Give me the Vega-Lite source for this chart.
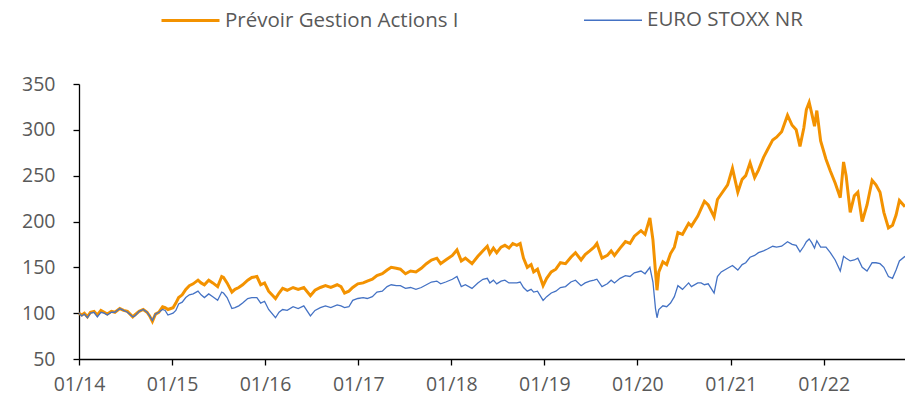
{
  "$schema": "https://vega.github.io/schema/vega-lite/v6.json",
  "width": 826,
  "height": 275,
  "autosize": "none",
  "padding": {"left": 79, "top": 84, "right": 0, "bottom": 41},
  "background": "white",
  "config": {
    "view": {"stroke": null},
    "font": "Open Sans",
    "axis": {"grid": false, "domainColor": "#000000", "domainWidth": 1.3, "tickColor": "#000000", "tickWidth": 1.3, "labelColor": "#595959", "labelFont": "Open Sans", "labelFontSize": 19.5, "title": null},
    "legend": {"labelFont": "Open Sans", "labelFontSize": 20.5, "labelColor": "#595959"}
  },
  "data": {"values": [
{"d":"2014-01-01","P":100,"E":100},{"d":"2014-01-12","P":98,"E":97},{"d":"2014-01-22","P":100,"E":99},{"d":"2014-02-03","P":96,"E":95},{"d":"2014-02-15","P":101,"E":100},{"d":"2014-03-01","P":102,"E":101},{"d":"2014-03-14","P":98,"E":96},{"d":"2014-03-28","P":103,"E":101},{"d":"2014-04-10","P":101,"E":100},{"d":"2014-04-22","P":99,"E":98},{"d":"2014-05-08","P":102,"E":101},{"d":"2014-05-22","P":101,"E":101},{"d":"2014-06-10","P":105,"E":105},{"d":"2014-06-25","P":103,"E":103},{"d":"2014-07-10","P":102,"E":101},{"d":"2014-07-31","P":96,"E":96},{"d":"2014-08-08","P":98,"E":97},{"d":"2014-08-25","P":102,"E":102},{"d":"2014-09-10","P":104,"E":104},{"d":"2014-09-25","P":101,"E":101},{"d":"2014-10-05","P":97,"E":97},{"d":"2014-10-16","P":91,"E":92},{"d":"2014-10-28","P":99,"E":99},{"d":"2014-11-10","P":101,"E":101},{"d":"2014-11-25","P":107,"E":104},{"d":"2014-12-05","P":106,"E":103},{"d":"2014-12-16","P":104,"E":98},
{"d":"2015-01-05","P":106,"E":100},{"d":"2015-01-16","P":111,"E":103},{"d":"2015-01-27","P":117,"E":110},{"d":"2015-02-10","P":120,"E":112},{"d":"2015-02-24","P":126,"E":117},{"d":"2015-03-10","P":130,"E":120},{"d":"2015-03-25","P":132,"E":121},{"d":"2015-04-13","P":136,"E":124},{"d":"2015-04-25","P":133,"E":120},{"d":"2015-05-08","P":131,"E":117},{"d":"2015-05-25","P":136,"E":121},{"d":"2015-06-10","P":133,"E":118},{"d":"2015-06-29","P":129,"E":114},{"d":"2015-07-15","P":140,"E":123},{"d":"2015-07-22","P":139,"E":122},{"d":"2015-08-05","P":133,"E":117},{"d":"2015-08-24","P":123,"E":105},{"d":"2015-09-05","P":126,"E":106},{"d":"2015-09-20","P":128,"E":108},{"d":"2015-10-05","P":131,"E":111},{"d":"2015-10-25","P":136,"E":116},{"d":"2015-11-10","P":139,"E":117},{"d":"2015-11-30","P":140,"E":117},{"d":"2015-12-15","P":131,"E":111},{"d":"2015-12-30","P":133,"E":113},
{"d":"2016-01-15","P":124,"E":104},{"d":"2016-02-11","P":116,"E":95},{"d":"2016-02-25","P":122,"E":101},{"d":"2016-03-10","P":127,"E":104},{"d":"2016-03-28","P":125,"E":103},{"d":"2016-04-20","P":128,"E":107},{"d":"2016-05-10","P":126,"E":105},{"d":"2016-06-01","P":128,"E":108},{"d":"2016-06-27","P":119,"E":97},{"d":"2016-07-15","P":125,"E":103},{"d":"2016-08-05","P":128,"E":106},{"d":"2016-08-25","P":130,"E":108},{"d":"2016-09-15","P":128,"E":106},{"d":"2016-10-10","P":131,"E":109},{"d":"2016-10-25","P":129,"E":108},{"d":"2016-11-08","P":122,"E":106},{"d":"2016-11-25","P":124,"E":107},{"d":"2016-12-10","P":128,"E":114},{"d":"2016-12-30","P":132,"E":116},
{"d":"2017-01-20","P":133,"E":117},{"d":"2017-02-05","P":135,"E":116},{"d":"2017-02-25","P":137,"E":118},{"d":"2017-03-15","P":141,"E":123},{"d":"2017-04-05","P":143,"E":124},{"d":"2017-04-24","P":147,"E":129},{"d":"2017-05-10","P":150,"E":131},{"d":"2017-05-30","P":149,"E":130},{"d":"2017-06-15","P":148,"E":130},{"d":"2017-07-05","P":143,"E":127},{"d":"2017-07-25","P":146,"E":128},{"d":"2017-08-15","P":145,"E":126},{"d":"2017-09-05","P":149,"E":128},{"d":"2017-09-25","P":154,"E":131},{"d":"2017-10-15","P":158,"E":134},{"d":"2017-11-05","P":160,"E":135},{"d":"2017-11-20","P":154,"E":132},{"d":"2017-12-10","P":158,"E":134},
{"d":"2018-01-05","P":163,"E":137},{"d":"2018-01-23","P":169,"E":140},{"d":"2018-02-09","P":157,"E":129},{"d":"2018-02-25","P":160,"E":131},{"d":"2018-03-23","P":154,"E":127},{"d":"2018-04-15","P":162,"E":133},{"d":"2018-05-05","P":168,"E":137},{"d":"2018-05-22","P":173,"E":138},{"d":"2018-06-01","P":165,"E":133},{"d":"2018-06-15","P":171,"E":136},{"d":"2018-06-28","P":166,"E":132},{"d":"2018-07-15","P":172,"E":135},{"d":"2018-07-30","P":174,"E":136},{"d":"2018-08-15","P":171,"E":133},{"d":"2018-08-30","P":176,"E":133},{"d":"2018-09-15","P":174,"E":133},{"d":"2018-09-28","P":176,"E":134},{"d":"2018-10-11","P":160,"E":128},{"d":"2018-10-26","P":150,"E":124},{"d":"2018-11-10","P":153,"E":126},{"d":"2018-11-20","P":145,"E":123},{"d":"2018-12-05","P":148,"E":124},{"d":"2018-12-27","P":130,"E":114},
{"d":"2019-01-10","P":138,"E":118},{"d":"2019-01-28","P":145,"E":122},{"d":"2019-02-15","P":148,"E":124},{"d":"2019-03-05","P":155,"E":128},{"d":"2019-03-25","P":154,"E":129},{"d":"2019-04-15","P":161,"E":134},{"d":"2019-05-03","P":166,"E":136},{"d":"2019-05-25","P":158,"E":130},{"d":"2019-06-10","P":164,"E":133},{"d":"2019-06-28","P":168,"E":135},{"d":"2019-07-15","P":172,"E":136},{"d":"2019-07-26","P":176,"E":137},{"d":"2019-08-15","P":160,"E":129},{"d":"2019-09-05","P":163,"E":132},{"d":"2019-09-20","P":168,"E":136},{"d":"2019-10-03","P":163,"E":133},{"d":"2019-10-25","P":171,"E":138},{"d":"2019-11-15","P":178,"E":141},{"d":"2019-12-03","P":176,"E":140},{"d":"2019-12-20","P":184,"E":144},
{"d":"2020-01-15","P":190,"E":146},{"d":"2020-01-31","P":186,"E":143},{"d":"2020-02-19","P":204,"E":150},{"d":"2020-03-02","P":180,"E":134},{"d":"2020-03-12","P":145,"E":105},{"d":"2020-03-18","P":125,"E":95},{"d":"2020-03-25","P":145,"E":104},{"d":"2020-04-10","P":156,"E":108},{"d":"2020-04-25","P":153,"E":107},{"d":"2020-05-10","P":165,"E":111},{"d":"2020-05-25","P":172,"E":118},{"d":"2020-06-08","P":188,"E":130},{"d":"2020-06-26","P":186,"E":126},{"d":"2020-07-20","P":198,"E":133},{"d":"2020-07-31","P":195,"E":129},{"d":"2020-08-25","P":206,"E":133},{"d":"2020-09-07","P":214,"E":133},{"d":"2020-09-20","P":222,"E":131},{"d":"2020-10-05","P":218,"E":132},{"d":"2020-10-28","P":205,"E":122},{"d":"2020-11-10","P":224,"E":140},{"d":"2020-11-25","P":230,"E":145},{"d":"2020-12-20","P":240,"E":149},
{"d":"2021-01-08","P":258,"E":152},{"d":"2021-01-29","P":232,"E":147},{"d":"2021-02-15","P":246,"E":153},{"d":"2021-03-01","P":250,"E":155},{"d":"2021-03-18","P":264,"E":161},{"d":"2021-04-05","P":248,"E":163},{"d":"2021-04-20","P":256,"E":166},{"d":"2021-05-10","P":270,"E":168},{"d":"2021-05-25","P":278,"E":170},{"d":"2021-06-15","P":289,"E":173},{"d":"2021-06-30","P":292,"E":172},{"d":"2021-07-20","P":298,"E":173},{"d":"2021-08-12","P":316,"E":178},{"d":"2021-08-30","P":305,"E":175},{"d":"2021-09-15","P":300,"E":174},{"d":"2021-09-30","P":282,"E":167},{"d":"2021-10-15","P":302,"E":173},{"d":"2021-10-25","P":322,"E":178},{"d":"2021-11-05","P":330,"E":181},{"d":"2021-11-15","P":318,"E":177},{"d":"2021-11-26","P":304,"E":171},{"d":"2021-12-05","P":321,"E":179},{"d":"2021-12-20","P":288,"E":172},
{"d":"2022-01-10","P":268,"E":172},{"d":"2022-01-27","P":255,"E":166},{"d":"2022-02-15","P":242,"E":158},{"d":"2022-03-07","P":226,"E":146},{"d":"2022-03-20","P":265,"E":162},{"d":"2022-03-30","P":250,"E":160},{"d":"2022-04-15","P":210,"E":157},{"d":"2022-05-01","P":228,"E":158},{"d":"2022-05-15","P":232,"E":160},{"d":"2022-06-01","P":200,"E":150},{"d":"2022-06-20","P":218,"E":146},{"d":"2022-07-10","P":245,"E":155},{"d":"2022-07-25","P":240,"E":155},{"d":"2022-08-10","P":232,"E":154},{"d":"2022-08-25","P":210,"E":150},{"d":"2022-09-12","P":193,"E":140},{"d":"2022-09-28","P":196,"E":138},{"d":"2022-10-12","P":207,"E":147},{"d":"2022-10-25","P":223,"E":157},{"d":"2022-11-16","P":216,"E":162}
  ]},
  "transform": [{"fold": ["P", "E"], "as": ["s", "v"]}],
  "mark": {"type": "line", "interpolate": "linear"},
  "encoding": {
    "x": {"field": "d", "type": "temporal",
      "scale": {"type": "utc", "domain": ["2014-01-01", "2022-11-16"]},
      "axis": {"labelExpr": "utcFormat(datum.value, '%m/%y')", "tickCount": {"interval": "year", "step": 1}, "tickSize": 6, "labelPadding": 10, "labelFlush": false, "labelOverlap": false}},
    "y": {"field": "v", "type": "quantitative",
      "scale": {"domain": [50, 350], "nice": false, "zero": false},
      "axis": {"values": [50, 100, 150, 200, 250, 300, 350], "tickSize": 6, "labelPadding": 18}},
    "color": {"field": "s", "type": "nominal",
      "scale": {"domain": ["P", "E"], "range": ["#F39200", "#4472C4"]},
      "legend": {"title": null, "orient": "none", "legendX": 81, "legendY": -94, "direction": "horizontal",
        "symbolType": "stroke", "symbolSize": 3364, "symbolStrokeWidth": 2.5, "labelOffset": 4, "columnPadding": 122,
        "labelExpr": "datum.label == 'P' ? 'Prévoir Gestion Actions I' : 'EURO STOXX NR'", "labelLimit": 400}},
    "strokeWidth": {"field": "s", "type": "nominal",
      "scale": {"domain": ["P", "E"], "range": [3, 1.3]}, "legend": null},
    "order": {"field": "d", "type": "temporal"}
  }
}
